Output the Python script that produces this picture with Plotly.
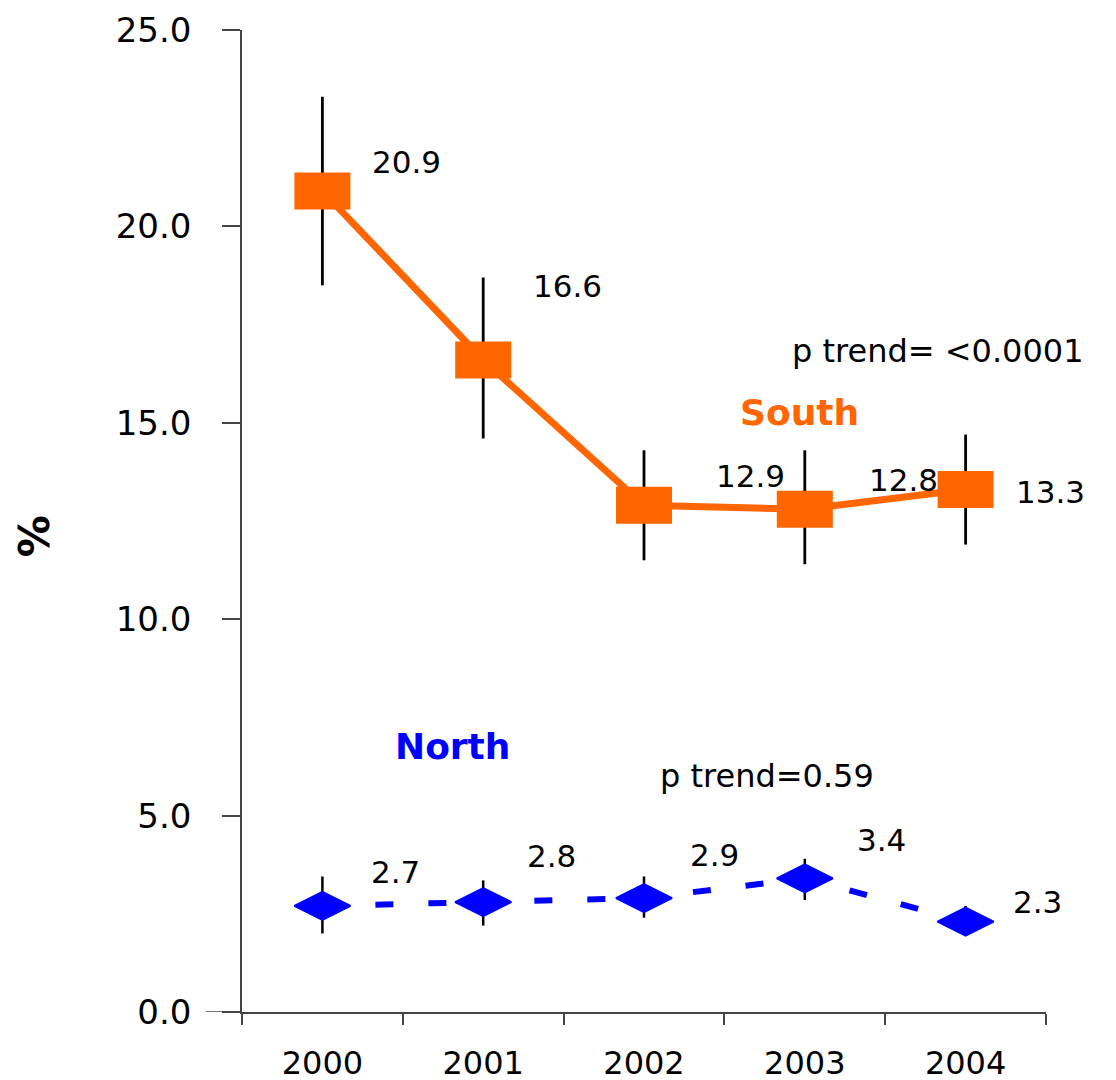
import plotly.graph_objects as go

years = ["2000", "2001", "2002", "2003", "2004"]
south = [20.9, 16.6, 12.9, 12.8, 13.3]
south_hi = [23.3, 18.7, 14.3, 14.3, 14.7]
south_lo = [18.5, 14.6, 11.5, 11.4, 11.9]
north = [2.7, 2.8, 2.9, 3.4, 2.3]
north_hi = [3.45, 3.35, 3.45, 3.9, 2.7]
north_lo = [2.0, 2.2, 2.4, 2.85, 1.95]
y_ticks = [0, 5, 10, 15, 20, 25]

ORANGE = "#FF6600"
BLUE = "#0000FF"
FONT = "DejaVu Sans"

xs = list(range(len(years)))

fig = go.Figure()

fig.add_trace(go.Scatter(
    x=xs, y=north, mode="lines+markers",
    line=dict(color=BLUE, width=6, dash="18px,35px"),
    marker=dict(symbol="diamond-wide", size=40, color=BLUE,
                line=dict(width=2, color=BLUE)),
    error_y=dict(type="data", symmetric=False,
                 array=[h - v for h, v in zip(north_hi, north)],
                 arrayminus=[v - l for v, l in zip(north, north_lo)],
                 color="black", thickness=2.5, width=0),
    cliponaxis=False, showlegend=False,
))

fig.add_trace(go.Scatter(
    x=xs, y=south, mode="lines+markers",
    line=dict(color=ORANGE, width=7),
    marker=dict(symbol="line-ew", size=40, color=ORANGE,
                line=dict(width=37, color=ORANGE)),
    error_y=dict(type="data", symmetric=False,
                 array=[h - v for h, v in zip(south_hi, south)],
                 arrayminus=[v - l for v, l in zip(south, south_lo)],
                 color="black", thickness=2.8, width=0),
    cliponaxis=False, showlegend=False,
))

# value labels
south_off = [(84, 29), (84, 74), (106, 29), (99, 29), (85, -2)]
north_off = [(73, 34), (68, 46), (70, 43), (77, 38), (72, 20)]
for i, v in enumerate(south):
    fig.add_annotation(x=xs[i], y=v, text=f"{v:.1f}", showarrow=False,
                       xshift=south_off[i][0], yshift=south_off[i][1],
                       font=dict(family=FONT, size=31, color="black"))
for i, v in enumerate(north):
    fig.add_annotation(x=xs[i], y=v, text=f"{v:.1f}", showarrow=False,
                       xshift=north_off[i][0], yshift=north_off[i][1],
                       font=dict(family=FONT, size=31, color="black"))

fig.add_annotation(x=2.97, y=15.25, text="<b>South</b>", showarrow=False,
                   font=dict(family=FONT, size=36, color=ORANGE))
fig.add_annotation(x=0.81, y=6.75, text="<b>North</b>", showarrow=False,
                   font=dict(family=FONT, size=36, color=BLUE))
fig.add_annotation(x=2.91, y=16.83, text="p trend= &lt;0.0001", showarrow=False,
                   xanchor="left", font=dict(family=FONT, size=32, color="black"))
fig.add_annotation(x=2.09, y=6.0, text="p trend=0.59", showarrow=False,
                   xanchor="left", font=dict(family=FONT, size=32, color="black"))

fig.add_annotation(xref="paper", yref="paper", x=-0.258, y=0.484, text="<b>%</b>",
                   textangle=-90, showarrow=False, xanchor="center", yanchor="middle",
                   font=dict(family=FONT, size=42, color="black"))

# x-axis line extension to the left
fig.add_shape(type="line", xref="paper", yref="y", x0=-0.045, x1=0, y0=0, y1=0,
              line=dict(color="#444", width=1.5))

fig.update_layout(
    width=1116, height=1080,
    margin=dict(l=234, r=78, t=22, b=76, autoexpand=False),
    paper_bgcolor="white", plot_bgcolor="white",
    font=dict(family=FONT, color="black"),
)
fig.update_xaxes(
    range=[-0.5, 4.5], tickmode="array", tickvals=xs, ticktext=years,
    ticks="outside", ticklen=11, tickcolor="rgba(0,0,0,0)",
    ticklabelstandoff=11, automargin=False,
    minor=dict(tickmode="array", tickvals=[x - 0.5 for x in xs] + [4.5],
               ticks="outside", ticklen=11, tickcolor="#444", tickwidth=1.5),
    showline=True, linecolor="#444", linewidth=1.5, showgrid=False, zeroline=False,
    tickfont=dict(family=FONT, size=32, color="black"),
)
fig.update_yaxes(
    range=[0, 25], tickmode="array", tickvals=y_ticks,
    ticktext=[f"{t:.1f}" for t in y_ticks],
    ticks="outside", ticklen=18, tickcolor="#444", tickwidth=1.5,
    ticklabelstandoff=24, automargin=False,
    showline=True, linecolor="#444", linewidth=1.5, showgrid=False, zeroline=False,
    tickfont=dict(family=FONT, size=34, color="black"),
)

fig.write_html("out.html")
